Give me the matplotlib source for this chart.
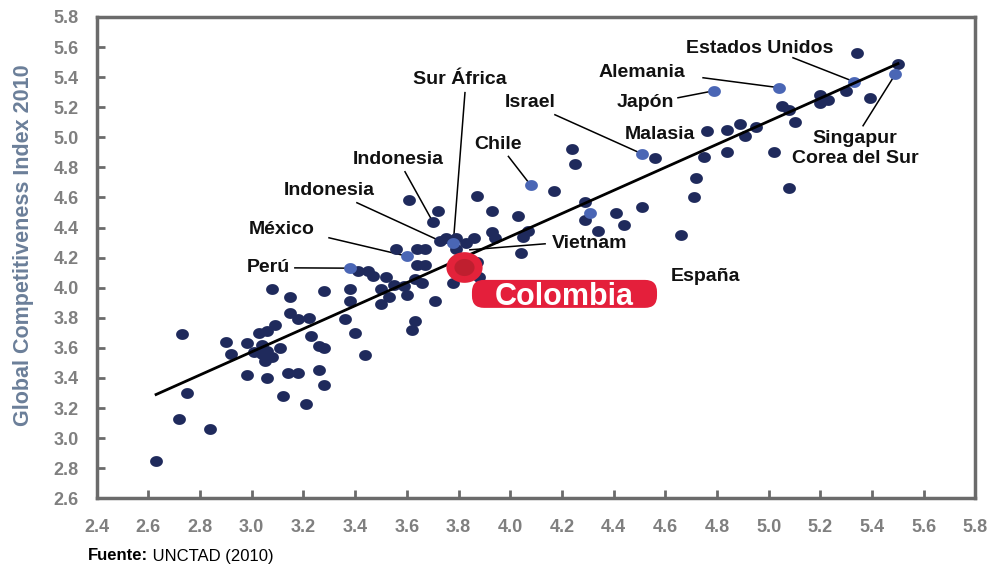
import numpy as np
import matplotlib
matplotlib.use("Agg")
import matplotlib.pyplot as plt
from matplotlib.path import Path
from matplotlib.patches import FancyBboxPatch

plt.rcParams['font.family'] = ['Liberation Sans', 'DejaVu Sans']

# paises (puntos oscuros)
dark_x = [2.63, 2.72, 2.84, 2.75, 2.73, 2.90, 2.92, 2.98, 2.98, 3.06, 3.12, 3.21,
          3.03, 3.06, 3.09, 3.08, 3.15, 3.15, 3.18, 3.22, 3.23, 3.26, 3.28, 3.26,
          3.28, 3.18, 3.14, 3.01, 3.04, 3.04, 3.05, 3.08, 3.11, 3.06,
          3.28, 3.38, 3.38, 3.36, 3.40, 3.44, 3.50, 3.50, 3.53, 3.52, 3.55, 3.60,
          3.59, 3.63, 3.66, 3.63, 3.62, 3.71, 3.41, 3.45, 3.47, 3.61, 3.56, 3.64,
          3.67, 3.64, 3.67,
          3.70, 3.72, 3.73, 3.75, 3.79, 3.79, 3.83, 3.86, 3.87, 3.88, 3.78, 3.87,
          3.93, 4.03, 3.93, 3.94, 4.04, 4.05, 4.07, 4.17, 4.24, 4.25,
          4.29, 4.29, 4.34, 4.41, 4.44, 4.51, 4.66, 4.56, 4.72, 4.71, 4.76, 4.75,
          4.84, 4.84,
          4.89, 4.95, 4.91, 5.02, 5.08, 5.05, 5.08, 5.10, 5.20, 5.23, 5.20, 5.30,
          5.39, 5.34, 5.50]
dark_y = [2.85, 3.13, 3.06, 3.30, 3.69, 3.64, 3.56, 3.63, 3.42, 3.40, 3.28, 3.23,
          3.70, 3.71, 3.75, 3.99, 3.94, 3.83, 3.79, 3.80, 3.68, 3.61, 3.60, 3.45,
          3.35, 3.43, 3.43, 3.57, 3.62, 3.56, 3.51, 3.54, 3.60, 3.58,
          3.98, 3.99, 3.91, 3.79, 3.70, 3.55, 3.89, 3.99, 3.94, 4.07, 4.02, 3.95,
          4.01, 4.06, 4.03, 3.78, 3.72, 3.91, 4.11, 4.11, 4.08, 4.58, 4.26, 4.26,
          4.26, 4.15, 4.15,
          4.44, 4.51, 4.31, 4.33, 4.33, 4.26, 4.30, 4.33, 4.17, 4.07, 4.03, 4.61,
          4.51, 4.48, 4.37, 4.33, 4.23, 4.34, 4.38, 4.64, 4.92, 4.82,
          4.57, 4.45, 4.38, 4.50, 4.42, 4.54, 4.35, 4.86, 4.73, 4.60, 5.04, 4.87,
          5.05, 4.90,
          5.09, 5.07, 5.01, 4.90, 4.66, 5.21, 5.18, 5.10, 5.28, 5.25, 5.23, 5.31,
          5.26, 5.56, 5.49]

# paises destacados (puntos azules)
blue_x = [3.38, 3.60, 3.78, 4.08, 4.31, 4.51, 4.79, 5.04, 5.33, 5.49]
blue_y = [4.13, 4.21, 4.30, 4.68, 4.50, 4.89, 5.31, 5.33, 5.37, 5.42]

colombia_x = [3.82]
colombia_y = [4.14]

trend_x = [2.63, 5.50]
trend_y = [3.29, 5.49]

x_ticks = [2.4, 2.6, 2.8, 3.0, 3.2, 3.4, 3.6, 3.8, 4.0, 4.2, 4.4, 4.6, 4.8, 5.0,
           5.2, 5.4, 5.6, 5.8]
y_ticks = [2.6, 2.8, 3.0, 3.2, 3.4, 3.6, 3.8, 4.0, 4.2, 4.4, 4.6, 4.8, 5.0, 5.2,
           5.4, 5.6, 5.8]

fig = plt.figure(figsize=(9.95, 5.7), dpi=100)
ax = fig.add_axes([0.0971, 0.1258, 0.8833, 0.8444])
ax.set_xlim(2.4, 5.8)
ax.set_ylim(2.6, 5.8)

# marcador ovalado (la imagen original esta estirada)
theta = np.linspace(0, 2 * np.pi, 64)
oval = Path(np.column_stack([1.18 * np.cos(theta), np.sin(theta)]))

ax.scatter(dark_x, dark_y, s=85, marker=oval, color='#1f2a5c', linewidths=0, zorder=3)
ax.scatter(blue_x, blue_y, s=85, marker=oval, color='#4a66b5', linewidths=0, zorder=3)
ax.plot(trend_x, trend_y, color='black', lw=2, zorder=4)

# Colombia
ax.scatter(colombia_x, colombia_y, s=680, marker=oval, color='#e3223a', linewidths=0, zorder=6)
ax.scatter(colombia_x, colombia_y, s=210, marker=oval, color='#bf1f2f', linewidths=0, zorder=7)

# etiquetas con linea guia
labels = [
    ('Estados Unidos', 4.966, 5.592, (5.094, 5.529), (blue_x[8], blue_y[8])),
    ('Alemania', 4.510, 5.430, (4.746, 5.396), (blue_x[7], blue_y[7])),
    ('Japón', 4.522, 5.230, (4.649, 5.263), (blue_x[6], blue_y[6])),
    ('Israel', 4.077, 5.230, (4.173, 5.150), (blue_x[5], blue_y[5])),
    ('Singapur', 5.334, 4.991, (5.365, 5.077), (blue_x[9], blue_y[9])),
    ('Sur África', 3.806, 5.383, (3.825, 5.297), (blue_x[2], blue_y[2])),
    ('Chile', 3.953, 4.951, (3.993, 4.873), (blue_x[3], blue_y[3])),
    ('Indonesia', 3.566, 4.851, (3.593, 4.771), (3.70, 4.44)),
    ('Indonesia', 3.299, 4.645, (3.407, 4.565), (3.73, 4.31)),
    ('México', 3.117, 4.385, (3.299, 4.332), (blue_x[1], blue_y[1])),
    ('Perú', 3.063, 4.132, (3.167, 4.132), (blue_x[0], blue_y[0])),
    ('Vietnam', 4.309, 4.292, (4.135, 4.292), (3.844, 4.252)),
]
for name, tx, ty, start, end in labels:
    ax.text(tx, ty, name, fontsize=14, fontweight='bold', color='#111111',
            ha='center', va='center', zorder=5)
    ax.plot([start[0], end[0]], [start[1], end[1]], color='black', lw=1.1, zorder=2)

for name, tx, ty in [('Malasia', 4.580, 5.017), ('Corea del Sur', 5.334, 4.857),
                     ('España', 4.754, 4.072)]:
    ax.text(tx, ty, name, fontsize=14, fontweight='bold', color='#111111',
            ha='center', va='center', zorder=5)

# recuadro rojo de Colombia
sx = ax.transData.transform((1, 0))[0] - ax.transData.transform((0, 0))[0]
sy = ax.transData.transform((0, 1))[1] - ax.transData.transform((0, 0))[1]
box = FancyBboxPatch((3.852, 3.866), 4.568 - 3.852, 4.052 - 3.866,
                     boxstyle='round,pad=0,rounding_size=%f' % (12 / sx),
                     mutation_aspect=sx / sy, fc='#e41f3b', ec='none', zorder=8)
ax.add_patch(box)
ax.text(4.21, 3.886, 'Colombia', color='white', fontsize=22, fontweight='bold',
        ha='center', va='baseline', zorder=9)

# ejes
for side in ['top', 'right', 'bottom', 'left']:
    ax.spines[side].set_color('#6b6b6b')
    ax.spines[side].set_linewidth(2.5)
ax.set_xticks(x_ticks)
ax.set_yticks(y_ticks)
ax.set_xticklabels(['%.1f' % v for v in x_ticks])
ax.set_yticklabels(['%.1f' % v for v in y_ticks])
ax.tick_params(direction='in', length=6, width=2, color='#6b6b6b',
               labelcolor='#7f7f7f', labelsize=13)
ax.tick_params(axis='y', pad=13)
ax.tick_params(axis='x', pad=15)
for lbl in ax.get_xticklabels() + ax.get_yticklabels():
    lbl.set_fontweight('bold')

ax.set_ylabel('Global Competitiveness Index 2010', fontsize=15.5, fontweight='bold',
              color='#6b7f99')
ax.yaxis.set_label_coords(-0.071, 0.526)

t1 = fig.text(88 / 995, 1 - 556 / 570, 'Fuente:', fontweight='bold', fontsize=12,
              ha='left', va='center')
ax.annotate(' UNCTAD (2010)', xy=(1, 0.5), xycoords=t1, fontsize=12,
            ha='left', va='center')

fig.savefig('out.png', dpi=100)
